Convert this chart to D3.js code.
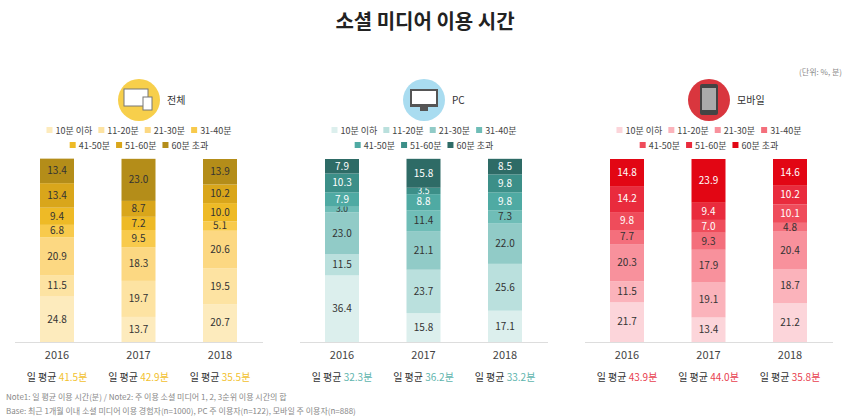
<!DOCTYPE html>
<html><head><meta charset="utf-8">
<script src="https://cdn.jsdelivr.net/npm/d3@7"></script>
<style>body{margin:0;background:#fff;font-family:"Noto Sans CJK KR","Noto Sans",sans-serif}</style>
</head><body><svg id="c" width="850" height="420"></svg>
<script>
var years = ["2016", "2017", "2018"];
var categories = ["10분 이하", "11-20분", "21-30분", "31-40분", "41-50분", "51-60분", "60분 초과"];
var panelNames = ["전체", "PC", "모바일"];
// values per panel, per year, bottom -> top
var totalValues = [[24.8, 11.5, 20.9, 6.8, 9.4, 13.4, 13.4], [13.7, 19.7, 18.3, 9.5, 7.2, 8.7, 23.0], [20.7, 19.5, 20.6, 5.1, 10.0, 10.2, 13.9]];
var pcValues = [[36.4, 11.5, 23.0, 3.0, 7.9, 10.3, 7.9], [15.8, 23.7, 21.1, 11.4, 8.8, 3.5, 15.8], [17.1, 25.6, 22.0, 7.3, 9.8, 9.8, 8.5]];
var mobileValues = [[21.7, 11.5, 20.3, 7.7, 9.8, 14.2, 14.8], [13.4, 19.1, 17.9, 9.3, 7.0, 9.4, 23.9], [21.2, 18.7, 20.4, 4.8, 10.1, 10.2, 14.6]];
var averages = [["41.5분", "42.9분", "35.5분"], ["32.3분", "36.2분", "33.2분"], ["43.9분", "44.0분", "35.8분"]];

var palettes = [
  ["#fdebbd", "#fde3a2", "#fcd882", "#f8ca4c", "#eeba26", "#d9a61b", "#b48d19"],
  ["#dcefed", "#bae0dd", "#91cbc7", "#6fbdb7", "#4faaa3", "#3c8f88", "#2e6b66"],
  ["#fcd5da", "#fbb3bb", "#f8919c", "#f46f7c", "#ef4c5b", "#e92b3d", "#e20614"]
];
var accent = ["#f2c12e", "#5fb5ae", "#e8414f"];
var iconBg = ["#f7cf4b", "#a9dcf0", "#d9363e"];
var panelData = [totalValues, pcValues, mobileValues];
var panelX = [15, 300, 585];

var svg = d3.select("#c");
svg.append("text").attr("x", 425).attr("y", 29).attr("text-anchor", "middle")
  .attr("font-size", 20).attr("font-weight", "bold").attr("fill", "#222").text("소셜 미디어 이용 시간");
svg.append("text").attr("x", 842).attr("y", 75).attr("text-anchor", "end")
  .attr("font-size", 8).attr("fill", "#888").text("(단위: %, 분)");

var y = d3.scaleLinear().domain([0, 100]).range([342, 159]);

panelData.forEach(function (vals, p) {
  var g = svg.append("g").attr("transform", "translate(" + panelX[p] + ",0)");
  var x = d3.scalePoint().domain(years).range([42, 205]);
  var cx = 124;
  // icon
  g.append("circle").attr("cx", cx).attr("cy", 100).attr("r", 21).attr("fill", iconBg[p]);
  if (p == 0) {
    g.append("rect").attr("x", cx - 15).attr("y", 89).attr("width", 24).attr("height", 17).attr("fill", "#fff").attr("stroke", "#777");
    g.append("rect").attr("x", cx + 4).attr("y", 97).attr("width", 9).attr("height", 13).attr("fill", "#fff").attr("stroke", "#777");
  } else if (p == 1) {
    g.append("rect").attr("x", cx - 14).attr("y", 89).attr("width", 28).attr("height", 18).attr("fill", "#555");
    g.append("rect").attr("x", cx - 12).attr("y", 91).attr("width", 24).attr("height", 13).attr("fill", "#fff");
    g.append("rect").attr("x", cx - 4).attr("y", 107).attr("width", 8).attr("height", 4).attr("fill", "#555");
  } else {
    g.append("rect").attr("x", cx - 9).attr("y", 84).attr("width", 18).attr("height", 31).attr("rx", 2).attr("fill", "#444");
    g.append("rect").attr("x", cx - 7).attr("y", 88).attr("width", 14).attr("height", 22).attr("fill", "#aaa");
  }
  g.append("text").attr("x", cx + 28).attr("y", 104).attr("font-size", 10).attr("fill", "#333").text(panelNames[p]);

  // legend
  var rows = [categories.slice(0, 4), categories.slice(4)];
  rows.forEach(function (row, r) {
    var items = row.map(function (c, i) {
      var it = g.append("g");
      it.append("rect").attr("x", 0).attr("y", -6).attr("width", 6).attr("height", 6).attr("fill", palettes[p][r * 4 + i]);
      var t = it.append("text").attr("x", 9).attr("y", 1).attr("font-size", 9).attr("fill", "#444").text(c);
      return { g: it, w: 9 + t.node().getComputedTextLength() + 6 };
    });
    var total = d3.sum(items, function (d) { return d.w; }) - 6;
    var lx = cx - total / 2;
    items.forEach(function (d) {
      d.g.attr("transform", "translate(" + lx + "," + (133 + r * 15) + ")");
      lx += d.w;
    });
  });

  // baseline
  g.append("line").attr("x1", 0).attr("x2", 248).attr("y1", 342.5).attr("y2", 342.5).attr("stroke", "#ddd");

  years.forEach(function (yr, j) {
    var acc = 0;
    vals[j].forEach(function (v, k) {
      var y0 = y(acc), y1 = y(acc + v);
      acc += v;
      g.append("rect").attr("x", x(yr) - 17).attr("width", 34).attr("y", y1).attr("height", y0 - y1).attr("fill", palettes[p][k]);
      var light = p != 0 && k >= 4;
      var fs = v < 4 ? 8.5 : 10;
      g.append("text").attr("x", x(yr)).attr("y", (y0 + y1) / 2 + fs * 0.33).attr("text-anchor", "middle")
        .attr("font-size", fs).attr("fill", light ? "#fff" : "#333").text(v.toFixed(1));
    });
    g.append("text").attr("x", x(yr)).attr("y", 359).attr("text-anchor", "middle").attr("font-size", 11).attr("fill", "#444").text(yr);
    var t = g.append("text").attr("x", x(yr)).attr("y", 381).attr("text-anchor", "middle").attr("font-size", 10).attr("fill", "#333");
    t.append("tspan").text("일 평균 ");
    t.append("tspan").attr("fill", accent[p]).text(averages[p][j]);
  });
});

svg.append("text").attr("x", 6).attr("y", 400).attr("font-size", 8).attr("fill", "#888")
  .text("Note1: 일 평균 이용 시간(분) / Note2: 주 이용 소셜 미디어 1, 2, 3순위 이용 시간의 합");
svg.append("text").attr("x", 6).attr("y", 414).attr("font-size", 8).attr("fill", "#888")
  .text("Base: 최근 1개월 이내 소셜 미디어 이용 경험자(n=1000), PC 주 이용자(n=122), 모바일 주 이용자(n=888)");
</script></body></html>
